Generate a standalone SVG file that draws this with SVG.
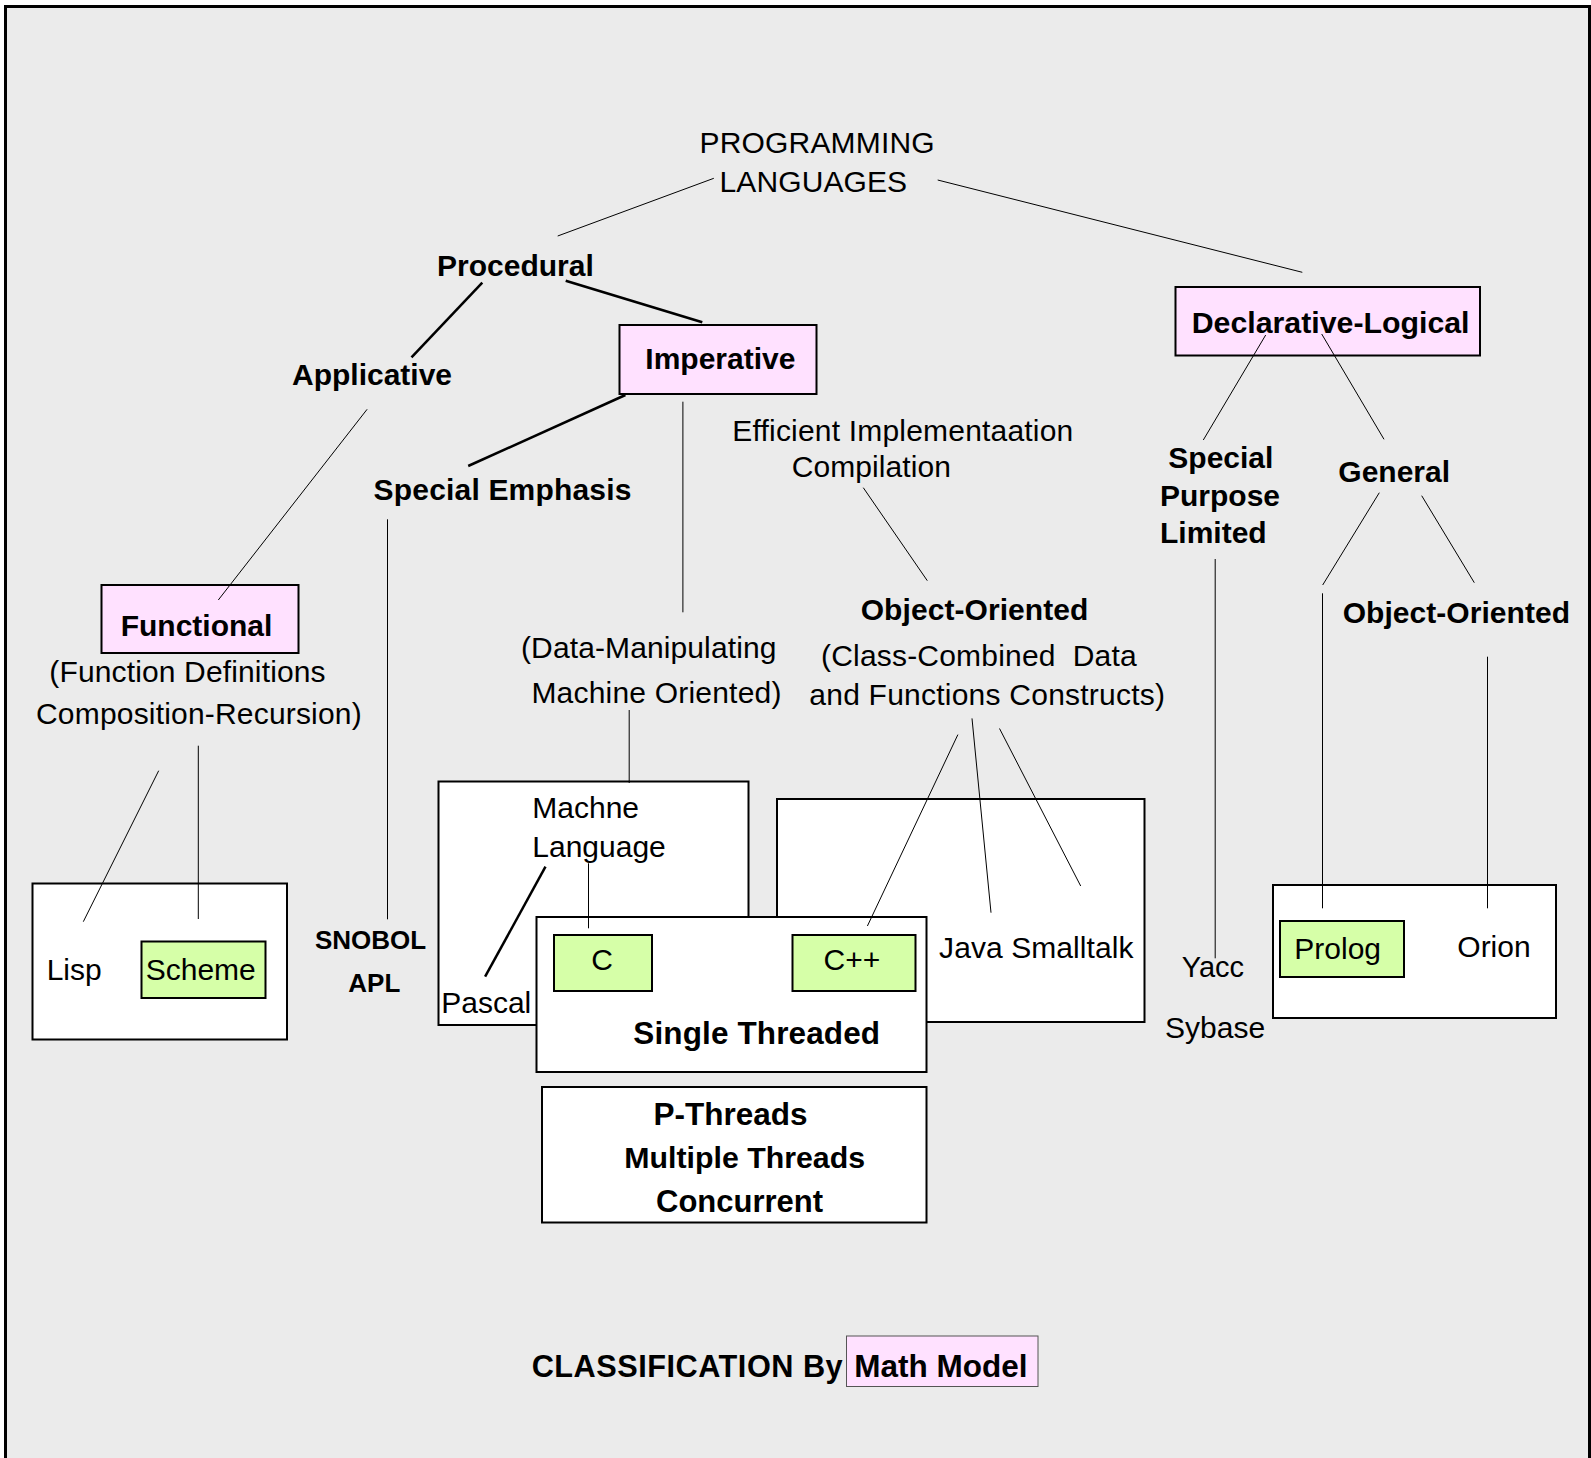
<svg xmlns="http://www.w3.org/2000/svg" width="1591" height="1458" viewBox="0 0 1591 1458">
<style>
.t{font-family:"Liberation Sans",Arial,sans-serif;font-size:30px;fill:#000}
.b{font-weight:bold}
.box{fill:#fff;stroke:#000;stroke-width:2}
.pink{fill:#FFE1FF;stroke:#000;stroke-width:2}
.green{fill:#D6FFA8;stroke:#000;stroke-width:2}
.ln{stroke:#000;stroke-width:1;fill:none}
.th{stroke:#000;stroke-width:2.5;fill:none}
</style>
<rect width="1591" height="1458" fill="#fff"/>
<rect x="5.5" y="6.5" width="1584" height="1470" fill="#EBEBEB" stroke="#000" stroke-width="3"/>

<g id="root">
<text class="t" x="699.6" y="152.7" textLength="235">PROGRAMMING</text>
<text class="t" x="719.6" y="191.7" textLength="187.4">LANGUAGES</text>
</g>
<g id="procedural"><text class="t b" x="437" y="275.7">Procedural</text></g>
<g id="applicative"><text class="t b" x="292" y="385">Applicative</text></g>
<g id="imperative">
<rect class="pink" x="619.5" y="325" width="197" height="69"/>
<text class="t b" x="645.3" y="369.3">Imperative</text>
</g>
<g id="special-emphasis"><text class="t b" x="373.6" y="500" textLength="257.8">Special Emphasis</text></g>
<g id="functional">
<rect class="pink" x="101.5" y="585" width="197" height="68"/>
<text class="t b" x="120.7" y="636">Functional</text>
<text class="t" x="49.3" y="681.7" textLength="276.3">(Function Definitions</text>
<text class="t" x="36" y="724.3" textLength="325.7">Composition-Recursion)</text>
</g>
<g id="lisp-box">
<rect class="box" x="32.5" y="883.5" width="254.5" height="156"/>
<text class="t" x="46.7" y="980">Lisp</text>
<rect class="green" x="141.5" y="941.5" width="124" height="56.5"/>
<text class="t" x="145.7" y="980">Scheme</text>
</g>
<g id="snobol">
<text class="t b" x="315" y="949.3" style="font-size:26px">SNOBOL</text>
<text class="t b" x="348.3" y="992" style="font-size:26px">APL</text>
</g>
<g id="data-manipulating">
<text class="t" x="521" y="657.7" textLength="255.4">(Data-Manipulating</text>
<text class="t" x="531.4" y="703.3" textLength="250">Machine Oriented)</text>
</g>
<g id="efficient">
<text class="t" x="732.3" y="440.7" textLength="341">Efficient Implementaation</text>
<text class="t" x="791.7" y="476.7" textLength="159.3">Compilation</text>
</g>
<g id="object-oriented">
<text class="t b" x="860.7" y="620" textLength="227.6">Object-Oriented</text>
<text class="t" x="821" y="666" xml:space="preserve" textLength="315.7">(Class-Combined  Data</text>
<text class="t" x="809.3" y="705" textLength="355.7">and Functions Constructs)</text>
</g>
<g id="machine-language">
<rect class="box" x="438.5" y="781.5" width="310" height="243.5"/>
<text class="t" x="532.3" y="818.3">Machne</text>
<text class="t" x="532.3" y="856.7">Language</text>
<text class="t" x="441.2" y="1013.3">Pascal</text>
</g>
<g id="java-box">
<rect class="box" x="777" y="799" width="367.5" height="223"/>
<text class="t" x="939.1" y="958.3" textLength="194.4">Java Smalltalk</text>
</g>
<g id="single-threaded">
<rect class="box" x="536.5" y="917" width="390" height="155"/>
<rect class="green" x="554" y="935" width="98" height="56"/>
<text class="t" x="602" y="970" text-anchor="middle">C</text>
<rect class="green" x="792.5" y="935" width="123" height="56"/>
<text class="t" x="823.5" y="970">C++</text>
<text class="t b" x="633.3" y="1044" style="font-size:31.5px" textLength="246.8">Single Threaded</text>
</g>
<g id="p-threads">
<rect class="box" x="542" y="1087" width="384.5" height="135.5"/>
<text class="t b" x="653.6" y="1125" style="font-size:31.5px">P-Threads</text>
<text class="t b" x="624.3" y="1168.3" style="font-size:30.3px">Multiple Threads</text>
<text class="t b" x="656" y="1211.7" style="font-size:31px">Concurrent</text>
</g>
<g id="declarative">
<rect class="pink" x="1175.5" y="287" width="304.5" height="68.5"/>
<text class="t b" x="1191.7" y="333.3" style="font-size:30.3px">Declarative-Logical</text>
</g>
<g id="special-purpose">
<text class="t b" x="1168.3" y="468.3">Special</text>
<text class="t b" x="1160" y="505.7">Purpose</text>
<text class="t b" x="1160" y="542.7">Limited</text>
</g>
<g id="general"><text class="t b" x="1338.3" y="481.7">General</text></g>
<g id="object-oriented-2"><text class="t b" x="1342.7" y="623.3" textLength="227.3">Object-Oriented</text></g>
<g id="yacc">
<text class="t" x="1181.7" y="976.7" style="font-size:29px">Yacc</text>
<text class="t" x="1165" y="1038.3">Sybase</text>
</g>
<g id="prolog-box">
<rect class="box" x="1273" y="885" width="283" height="133"/>
<rect class="green" x="1280" y="921" width="124" height="56"/>
<text class="t" x="1294.3" y="959.3">Prolog</text>
<text class="t" x="1457.3" y="956.7">Orion</text>
</g>
<g id="footer">
<text class="t b" x="531.7" y="1376.7" style="font-size:30.7px" textLength="311">CLASSIFICATION By</text>
<rect x="846.5" y="1336" width="191.5" height="50.5" fill="#FFE1FF" stroke="#555" stroke-width="1"/>
<text class="t b" x="854.3" y="1376.7" style="font-size:31.5px">Math Model</text>
</g>

<g id="connectors">
<line class="ln" x1="713.8" y1="178.3" x2="557.7" y2="236"/>
<line class="ln" x1="937.7" y1="180" x2="1302.3" y2="272.3"/>
<line class="th" x1="482.3" y1="282.7" x2="411.5" y2="357.3"/>
<line class="th" x1="565.7" y1="280.7" x2="702.3" y2="322.3"/>
<line class="ln" x1="367.1" y1="409.3" x2="218.3" y2="600"/>
<line class="th" x1="625.4" y1="395" x2="468.2" y2="466"/>
<line class="ln" x1="682.9" y1="401.7" x2="682.9" y2="612.3"/>
<line class="ln" x1="387.5" y1="519.3" x2="387.5" y2="919.3"/>
<line class="ln" x1="158.7" y1="770.7" x2="83.3" y2="921.7"/>
<line class="ln" x1="198.3" y1="745.7" x2="198.3" y2="919"/>
<line class="ln" x1="629.2" y1="710" x2="629.2" y2="783"/>
<line class="th" x1="545.5" y1="866.7" x2="485.1" y2="976.7"/>
<line class="ln" x1="588.5" y1="863.3" x2="588.5" y2="928.3"/>
<line class="ln" x1="863.3" y1="487.7" x2="927.3" y2="580.7"/>
<line class="ln" x1="957.9" y1="734.6" x2="867.4" y2="926"/>
<line class="ln" x1="972" y1="718.4" x2="991" y2="912.7"/>
<line class="ln" x1="999.5" y1="728.5" x2="1080.7" y2="886"/>
<line class="ln" x1="1265.7" y1="335" x2="1203.3" y2="440"/>
<line class="ln" x1="1321.7" y1="334" x2="1384" y2="439.3"/>
<line class="ln" x1="1215.2" y1="559" x2="1215.2" y2="958.3"/>
<line class="ln" x1="1379.3" y1="492.7" x2="1322.7" y2="585"/>
<line class="ln" x1="1322.5" y1="593.3" x2="1322.5" y2="908.3"/>
<line class="ln" x1="1421.7" y1="495.7" x2="1474.3" y2="582.7"/>
<line class="ln" x1="1487.5" y1="656.7" x2="1487.5" y2="908.3"/>
</g>
</svg>
